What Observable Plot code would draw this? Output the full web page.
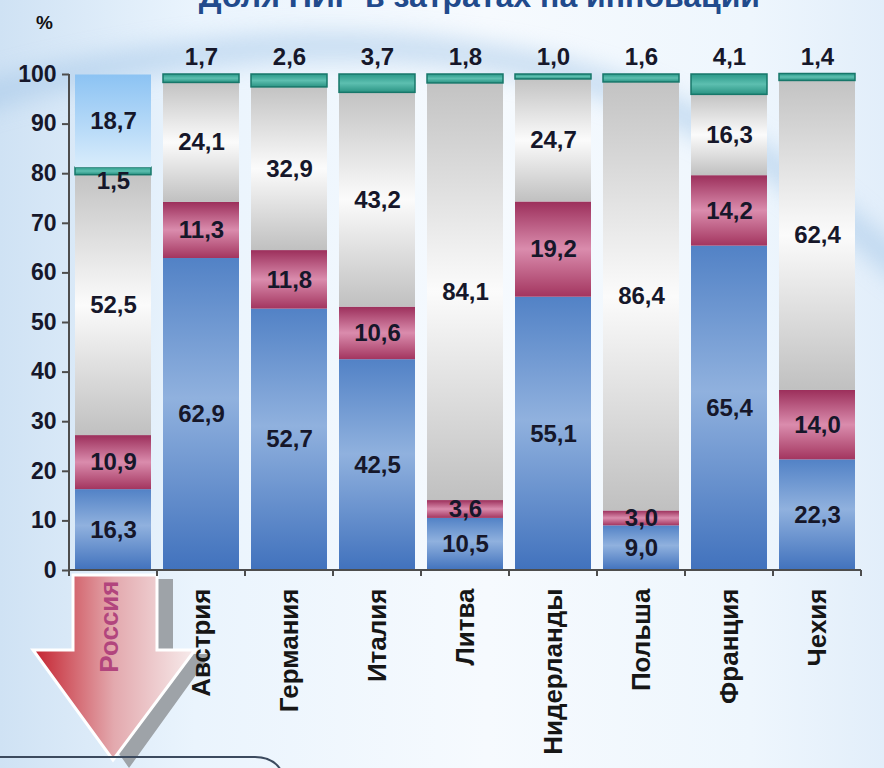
<!DOCTYPE html>
<html><head><meta charset="utf-8">
<script src="https://cdn.jsdelivr.net/npm/d3@7"></script>
<script src="https://cdn.jsdelivr.net/npm/@observablehq/plot@0.6"></script>
<style>
html,body{margin:0;padding:0;}
#wrap{position:relative;width:884px;height:768px;overflow:hidden;background:linear-gradient(90deg,#cfe2f4 0%,#eaf4fd 22%,#f6fafe 55%,#eef6fd 85%,#e2eefa 100%);font-family:"Liberation Sans",Arial,sans-serif;}
#title{position:absolute;right:124px;top:-22px;font-size:32px;font-weight:bold;color:#214a8c;white-space:nowrap;}
#deco{position:absolute;left:0;top:0;}
#chart{position:absolute;left:0;top:0;}
#pct{position:absolute;left:36px;top:12px;font-weight:bold;font-size:19px;color:#111;font-family:"Liberation Sans Narrow","Liberation Sans",sans-serif;}
</style></head><body>
<div id="wrap">
<svg id="deco" width="884" height="768">
<defs>
<linearGradient id="arrowG" x1="0" x2="1" y1="0" y2="0">
<stop offset="0" stop-color="#c4222f"/><stop offset="0.5" stop-color="#e3a9ae"/><stop offset="1" stop-color="#f7ecec"/>
</linearGradient>
<filter id="blur" x="-20%" y="-50%" width="140%" height="200%"><feGaussianBlur stdDeviation="12"/></filter>
</defs>
<path d="M-60,110 C 150,40 420,20 620,90 S 860,260 960,300" stroke="#9fc3e6" stroke-width="26" fill="none" opacity="0.55" filter="url(#blur)"/>
<path d="M89,579 H173 V654 H211 L129,768 L49,654 H89 Z" fill="#9ea3a8"/>
<path d="M73,575 H157 V650 H195 L113,760 L33,650 H73 Z" fill="url(#arrowG)" stroke="#ffffff" stroke-width="3"/>
<path d="M0,757 H255 Q274,757 282,772" stroke="#3c4a5e" stroke-width="2" fill="none"/>
</svg>
<div id="title">Доля НИР в затратах на инновации</div>
<div id="pct">%</div>
<div id="chart"></div>
</div>
<script>
const countries = ["Россия","Австрия","Германия","Италия","Литва","Нидерланды","Польша","Франция","Чехия"];
const seriesKeys = ["blue","magenta","gray","teal","lightblue"];
const blueVals    = [16.3, 62.9, 52.7, 42.5, 10.5, 55.1, 9.0, 65.4, 22.3];
const magentaVals = [10.9, 11.3, 11.8, 10.6, 3.6, 19.2, 3.0, 14.2, 14.0];
const grayVals    = [52.5, 24.1, 32.9, 43.2, 84.1, 24.7, 86.4, 16.3, 62.4];
const tealVals    = [1.5, 1.7, 2.6, 3.7, 1.8, 1.0, 1.6, 4.1, 1.4];
const lightVals   = [18.7, 0, 0, 0, 0, 0, 0, 0, 0];
const yTicks = [0,10,20,30,40,50,60,70,80,90,100];

const valuesBySeries = {blue: blueVals, magenta: magentaVals, gray: grayVals, teal: tealVals, lightblue: lightVals};
const rows = [];
countries.forEach((c, i) => {
  let acc = 0;
  for (const s of seriesKeys) {
    const v = valuesBySeries[s][i];
    if (v > 0) {
      rows.push({country: c, series: s, value: v, y1: acc, y2: acc + v, ymid: acc + v / 2});
      acc += v;
    }
  }
});
const fmt = v => v.toFixed(1).replace(".", ",");

const fills = {blue: "url(#gBlue)", magenta: "url(#gMag)", gray: "url(#gGray)", teal: "url(#gTeal)", lightblue: "url(#gLight)"};

const defs = () => {
  const s = d3.create("svg:defs");
  const mk = (id, stops) => {
    const g = s.append("linearGradient").attr("id", id).attr("x1", 0).attr("x2", 0).attr("y1", 0).attr("y2", 1);
    stops.forEach(([o, c]) => g.append("stop").attr("offset", o).attr("stop-color", c));
  };
  mk("gBlue", [[0, "#5282c6"], [0.45, "#90b1de"], [1, "#4172bd"]]);
  mk("gMag", [[0, "#9c2f5b"], [0.5, "#da8cad"], [1, "#a3355f"]]);
  mk("gGray", [[0, "#c3c3c3"], [0.5, "#fbfbfb"], [1, "#c0c0c0"]]);
  mk("gTeal", [[0, "#2a9888"], [0.5, "#5dbfb0"], [1, "#2a9383"]]);
  mk("gLight", [[0, "#8cc3f3"], [0.6, "#b9dbf8"], [1, "#d9edfc"]]);
  return s.node();
};

const axisLines = (index, scales, values, dim) => {
  const {width, height, marginLeft, marginRight, marginTop, marginBottom} = dim;
  const y0 = height - marginBottom;
  const g = d3.create("svg:g").attr("stroke", "#4d4d4d").attr("stroke-width", 2);
  g.append("line").attr("x1", marginLeft).attr("x2", marginLeft).attr("y1", marginTop).attr("y2", y0);
  g.append("line").attr("x1", marginLeft).attr("x2", width - marginRight).attr("y1", y0).attr("y2", y0);
  const step = (width - marginLeft - marginRight) / countries.length;
  for (let i = 0; i <= countries.length; i++) {
    const x = marginLeft + i * step;
    g.append("line").attr("x1", x).attr("x2", x).attr("y1", y0).attr("y2", y0 + 6);
  }
  return g.node();
};

const narrow = "'Liberation Sans Narrow','Arial Narrow','Liberation Sans',sans-serif";
const marks = [defs];
for (const s of seriesKeys) {
  marks.push(Plot.barY(rows.filter(d => d.series === s), {
    x: "country", y1: "y1", y2: "y2", fill: fills[s], inset: 0,
    stroke: s === "teal" ? "#17776a" : "none", strokeWidth: 1.5
  }));
}
const inner = rows.filter(d => !(d.series === "teal" && d.country !== "Россия"));
const above = rows.filter(d => d.series === "teal" && d.country !== "Россия");
marks.push(
  Plot.text(inner.filter(d => d.series !== "teal"), {x: "country", y: "ymid", text: d => fmt(d.value), fontSize: 24, fontWeight: "bold", fill: "#16172a", fontFamily: narrow}),
  Plot.text(inner.filter(d => d.series === "teal"), {x: "country", y: "ymid", dy: 10, text: d => fmt(d.value), fontSize: 24, fontWeight: "bold", fill: "#16172a", fontFamily: narrow}),
  Plot.text(above, {x: "country", y: "y2", dy: -17, text: d => fmt(d.value), fontSize: 24, fontWeight: "bold", fill: "#16172a", fontFamily: narrow}),
  axisLines,
  Plot.axisY({ticks: yTicks, tickSize: 7, tickPadding: 6, fontSize: 23, fontWeight: "bold", fontFamily: narrow, color: "#16172a", label: null, stroke: "#4d4d4d", strokeWidth: 2}),
  Plot.text(countries.filter(c => c !== "Россия"), {x: d => d, frameAnchor: "bottom", rotate: -90, textAnchor: "end", lineAnchor: "middle", dy: 18, fontSize: 26, fontWeight: "bold", fill: "#161616"}),
  Plot.text(countries.filter(c => c === "Россия"), {x: d => d, frameAnchor: "bottom", rotate: -90, textAnchor: "end", lineAnchor: "middle", dy: 10, dx: -4, fontSize: 26, fontWeight: "bold", fill: "#b2457d"})
);

const chart = Plot.plot({
  width: 884, height: 768,
  marginLeft: 69, marginRight: 23, marginTop: 74, marginBottom: 198,
  style: {background: "transparent", fontFamily: "'Liberation Sans',Arial,sans-serif", overflow: "visible"},
  x: {domain: countries, paddingInner: 0.14, paddingOuter: 0.07, axis: null},
  y: {domain: [0, 100], axis: null},
  marks
});
document.getElementById("chart").appendChild(chart);
</script>
</body></html>
